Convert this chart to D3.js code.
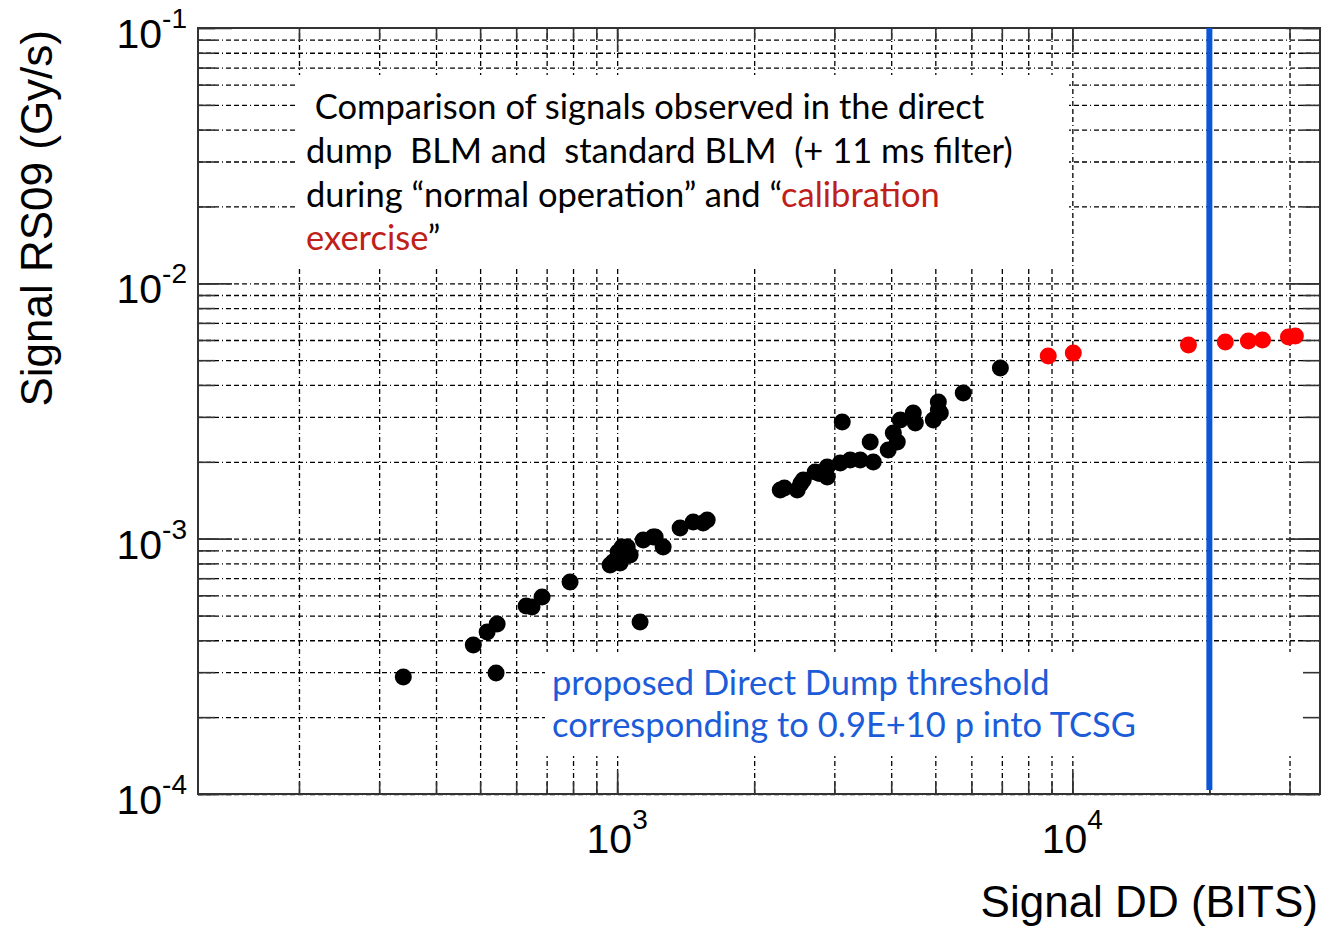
<!DOCTYPE html>
<meta charset="utf-8">
<style>
  body { margin: 0; background: #fff; }
  .grid line { stroke: #000; stroke-width: 1.3; stroke-dasharray: 5,3,5,3,5,3,1,3; }
  .grid path { display: none; }
  .ticks line { stroke: #333; stroke-width: 1.6; }
  .ticks path { display: none; }
</style>
<script src="https://d3js.org/d3.v7.min.js"></script>
<div id="chart"></div>
<script>
// signals, normal operation (black) and calibration exercise (red)
var ddNormal = [339, 483, 518, 545, 542, 631, 650, 684, 788, 1123,
  965, 980, 1005, 1015, 1026, 1052, 1068, 1141, 1200, 1212, 1262, 1375, 1469, 1545, 1577,
  2282, 2330, 2487, 2530, 2564, 2723, 2780, 2894, 2894, 3091, 3251, 3420, 3653, 3597, 3123,
  3940, 4043, 4125, 4188, 4519, 4472, 4950, 5077, 5077, 5128, 5759, 6948];
var rsNormal = [2.87e-4, 3.83e-4, 4.31e-4, 4.63e-4, 2.98e-4, 5.45e-4, 5.40e-4, 5.91e-4, 6.77e-4, 4.72e-4,
  7.88e-4, 8.10e-4, 8.87e-4, 8.03e-4, 9.28e-4, 9.28e-4, 8.63e-4, 9.88e-4, 1.015e-3, 1.015e-3, 9.28e-4, 1.10e-3, 1.163e-3, 1.152e-3, 1.184e-3,
  1.551e-3, 1.58e-3, 1.551e-3, 1.64e-3, 1.698e-3, 1.824e-3, 1.80e-3, 1.744e-3, 1.909e-3, 1.979e-3, 2.033e-3, 2.033e-3, 1.997e-3, 2.391e-3, 2.864e-3,
  2.225e-3, 2.594e-3, 2.391e-3, 2.916e-3, 2.838e-3, 3.106e-3, 2.916e-3, 3.19e-3, 3.43e-3, 3.106e-3, 3.72e-3, 4.66e-3];
var ddCalib = [8852, 10050, 17990, 21680, 24360, 26170, 29840, 30900];
var rsCalib = [5.19e-3, 5.34e-3, 5.74e-3, 5.89e-3, 5.95e-3, 6.00e-3, 6.16e-3, 6.22e-3];
var thresholdDD = 20000;

var xLabelExps = [3, 4];
var yLabelExps = [-4, -3, -2, -1];

var noteLines = [
  [{t: " Comparison of signals observed in the direct", c: "#000"}],
  [{t: "dump  BLM and  standard BLM  (+ 11 ms filter)", c: "#000"}],
  [{t: "during \u201cnormal operation\u201d and \u201c", c: "#000"}, {t: "calibration", c: "#c0201a"}],
  [{t: "exercise", c: "#c0201a"}, {t: "\u201d", c: "#000"}]
];
var thresholdLines = ["proposed Direct Dump threshold", "corresponding to 0.9E+10 p into TCSG"];

var W = 1323, H = 927;
var margin = {top: 28, right: 3, bottom: 133, left: 198};
var width = W - margin.left - margin.right,
    height = H - margin.top - margin.bottom;

var svg = d3.select("#chart").append("svg")
  .attr("width", W).attr("height", H)
  .style("font-family", "'Liberation Sans', Arial, sans-serif");

var g = svg.append("g")
  .attr("transform", "translate(" + margin.left + "," + margin.top + ")");

var x = d3.scaleLog().domain([120, 35000]).range([0, width]);
var y = d3.scaleLog().domain([1e-4, 1e-1]).range([height, 0]);

// tick positions: every 1..9 x 10^k inside the domain
function logTicks(scale) {
  var d = scale.domain(), out = [];
  for (var e = Math.floor(Math.log10(d[0])); e <= Math.ceil(Math.log10(d[1])); e++) {
    for (var k = 1; k <= 9; k++) {
      var v = k * Math.pow(10, e);
      if (v >= d[0] * 0.9999 && v <= d[1] * 1.0001) out.push(v);
    }
  }
  return out;
}
function isDecade(v) {
  var f = Math.abs(Math.log10(v) % 1);
  return f < 1e-9 || f > 1 - 1e-9;
}
var xAll = logTicks(x), yAll = logTicks(y);
var xMajor = xAll.filter(isDecade);
var yMajor = yAll.filter(isDecade);

// grid
g.append("g").attr("class", "grid")
  .attr("transform", "translate(0," + height + ")")
  .call(d3.axisBottom(x).tickValues(xAll).tickSize(-height).tickFormat(""));
g.append("g").attr("class", "grid")
  .call(d3.axisLeft(y).tickValues(yAll.filter(function(v) { return v < 0.0999; })).tickSize(-width).tickFormat(""));

// white boxes behind the annotations
g.append("rect").attr("x", 100).attr("y", 47).attr("width", 771).attr("height", 194).attr("fill", "#fff");
g.append("rect").attr("x", 347).attr("y", 624).attr("width", 795).attr("height", 104).attr("fill", "#fff");

// ticks on all four sides
function tickSet(axisFn, vals, size, tr) {
  g.append("g").attr("class", "ticks").attr("transform", tr)
    .call(axisFn.tickValues(vals).tickSize(size).tickFormat(""));
}
tickSet(d3.axisBottom(x), xAll, -12, "translate(0," + height + ")");
tickSet(d3.axisBottom(x), xMajor, -24, "translate(0," + height + ")");
tickSet(d3.axisTop(x), xAll, -12, "translate(0,0)");
tickSet(d3.axisTop(x), xMajor, -24, "translate(0,0)");
tickSet(d3.axisLeft(y), yAll, -17, "translate(0,0)");
tickSet(d3.axisLeft(y), yMajor, -34, "translate(0,0)");
tickSet(d3.axisRight(y), yAll, -17, "translate(" + width + ",0)");
tickSet(d3.axisRight(y), yMajor, -34, "translate(" + width + ",0)");

// frame
g.append("rect").attr("width", width).attr("height", height)
  .attr("fill", "none").attr("stroke", "#333").attr("stroke-width", 2);

// threshold line
g.append("line")
  .attr("x1", x(thresholdDD)).attr("x2", x(thresholdDD))
  .attr("y1", 0).attr("y2", height - 4)
  .attr("stroke", "#0b55d8").attr("stroke-width", 6);

// points
g.selectAll("circle.normal").data(ddNormal).enter().append("circle")
  .attr("class", "normal")
  .attr("cx", function(d) { return x(d); })
  .attr("cy", function(d, i) { return y(rsNormal[i]); })
  .attr("r", 8.5).attr("fill", "#000");
g.selectAll("circle.calib").data(ddCalib).enter().append("circle")
  .attr("class", "calib")
  .attr("cx", function(d) { return x(d); })
  .attr("cy", function(d, i) { return y(rsCalib[i]); })
  .attr("r", 8.5).attr("fill", "#ff0000");

// tick labels 10^k
xLabelExps.forEach(function(e) {
  var t = g.append("text").attr("x", x(Math.pow(10, e))).attr("y", height + 59)
    .attr("text-anchor", "middle").attr("font-size", 41).attr("fill", "#000");
  t.append("tspan").text("10");
  t.append("tspan").attr("dy", -24).attr("font-size", 28).text(e);
});
yLabelExps.forEach(function(e) {
  var t = g.append("text").attr("x", -11).attr("y", y(Math.pow(10, e)) + 20)
    .attr("text-anchor", "end").attr("font-size", 41).attr("fill", "#000");
  t.append("tspan").text("10");
  t.append("tspan").attr("dy", -20).attr("font-size", 28).text(e);
});

// axis titles
svg.append("text").attr("x", 1318).attr("y", 917)
  .attr("text-anchor", "end").attr("font-size", 44).text("Signal DD (BITS)");
svg.append("text").attr("transform", "translate(52,30) rotate(-90)")
  .attr("text-anchor", "end").attr("font-size", 44).text("Signal RS09 (Gy/s)");

// annotation texts
var noteY = [119, 163, 207, 250];
noteLines.forEach(function(parts, i) {
  var t = svg.append("text").attr("x", 306).attr("y", noteY[i])
    .attr("font-family", "Lato, 'Open Sans', sans-serif").attr("font-size", 34.5)
    .attr("xml:space", "preserve").style("white-space", "pre");
  parts.forEach(function(p) { t.append("tspan").attr("fill", p.c).text(p.t); });
});
thresholdLines.forEach(function(s, i) {
  svg.append("text").attr("x", 552).attr("y", 695 + i * 42)
    .attr("font-family", "Lato, 'Open Sans', sans-serif").attr("font-size", 34.5)
    .attr("fill", "#1c5cd8").text(s);
});
</script>
